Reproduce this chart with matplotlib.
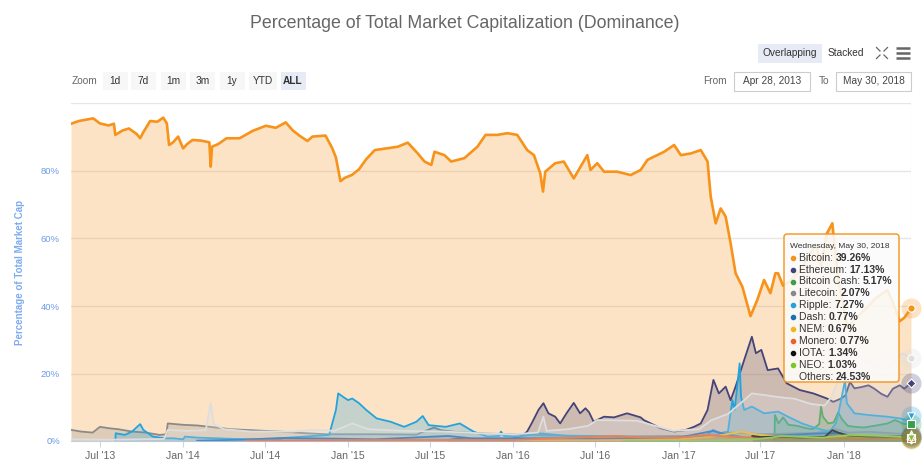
import matplotlib.pyplot as plt
import matplotlib.dates as mdates
import numpy as np
import pandas as pd
from matplotlib.patches import FancyBboxPatch, Rectangle
from matplotlib.ticker import FixedLocator

plt.rcParams["font.family"] = ["Liberation Sans", "DejaVu Sans"]

# values (percent of total market cap)
btc_dates = [
    "2013-04-28", "2013-05-15", "2013-06-16", "2013-07-01", "2013-07-20", "2013-08-01",
    "2013-08-04", "2013-08-20", "2013-09-03", "2013-09-20", "2013-09-28", "2013-10-05",
    "2013-10-20", "2013-11-05", "2013-11-18", "2013-11-26", "2013-12-01", "2013-12-10",
    "2013-12-21", "2014-01-01", "2014-01-10", "2014-01-22", "2014-02-10", "2014-02-28",
    "2014-03-03", "2014-03-06", "2014-03-20", "2014-04-07", "2014-05-06", "2014-06-04",
    "2014-07-03", "2014-07-25", "2014-08-16", "2014-08-31", "2014-09-15", "2014-10-03",
    "2014-10-14", "2014-11-12", "2014-11-27", "2014-12-05", "2014-12-15", "2014-12-25",
    "2015-01-09", "2015-01-25", "2015-02-10", "2015-03-01", "2015-04-01", "2015-04-21",
    "2015-05-13", "2015-06-04", "2015-06-19", "2015-07-04", "2015-07-11", "2015-08-02",
    "2015-08-17", "2015-09-15", "2015-10-14", "2015-11-01", "2015-11-27", "2015-12-19",
    "2016-01-10", "2016-02-01", "2016-02-16", "2016-03-01", "2016-03-07", "2016-03-12",
    "2016-04-03", "2016-04-22", "2016-05-14", "2016-06-13", "2016-06-20", "2016-07-05",
    "2016-07-20", "2016-08-18", "2016-09-17", "2016-10-09", "2016-10-24", "2016-11-30",
    "2016-12-22", "2017-01-06", "2017-01-28", "2017-02-19", "2017-03-06", "2017-03-13",
    "2017-03-24", "2017-04-04", "2017-04-15", "2017-04-26", "2017-05-07", "2017-05-22",
    "2017-06-09", "2017-06-24", "2017-07-09", "2017-07-23", "2017-08-03", "2017-08-09",
    "2017-08-20", "2017-09-01", "2017-09-15", "2017-10-01", "2017-10-15", "2017-11-01",
    "2017-11-12", "2017-11-25", "2017-12-07", "2017-12-12", "2017-12-20", "2018-01-01",
    "2018-01-10", "2018-01-25", "2018-02-10", "2018-02-25", "2018-03-10", "2018-03-25",
    "2018-04-08", "2018-04-20", "2018-05-05", "2018-05-15", "2018-05-30",
]
btc_vals = [
    94.0, 94.8, 95.6, 94.1, 93.5, 94.0,
    90.7, 92.0, 92.6, 91.0, 89.7, 91.5,
    94.8, 94.6, 95.8, 94.1, 87.7, 88.5,
    90.2, 86.7, 88.0, 89.2, 89.0, 88.5,
    81.3, 87.2, 88.0, 89.7, 89.7, 91.9,
    93.4, 92.8, 94.4, 92.1, 90.5, 88.9,
    90.2, 90.5, 86.7, 84.0, 77.0, 78.0,
    78.8, 80.5, 83.5, 86.2, 86.8, 87.2,
    88.4, 85.2, 82.8, 81.8, 85.7, 84.7,
    82.8, 83.8, 87.2, 90.7, 90.7, 91.2,
    90.7, 86.2, 84.7, 79.3, 73.9, 79.8,
    82.3, 82.8, 77.8, 84.7, 80.3, 82.3,
    79.8, 79.8, 78.8, 80.3, 83.3, 85.7,
    87.7, 84.7, 85.2, 86.2, 82.8, 72.4,
    64.5, 68.9, 66.5, 58.6, 49.7, 45.7,
    37.0, 41.8, 47.7, 43.8, 49.7, 49.7,
    46.0, 47.0, 49.0, 51.0, 55.0, 58.0,
    52.0, 61.5, 64.5, 58.0, 48.0, 40.0,
    33.5, 36.0, 38.0, 40.0, 42.0, 43.5,
    44.7, 41.0, 35.5, 36.5, 39.26,
]

eth_dates = [
    "2015-08-10", "2015-09-01", "2015-10-15", "2015-12-01", "2016-01-01", "2016-01-20",
    "2016-02-01", "2016-02-12", "2016-02-26", "2016-03-08", "2016-03-19", "2016-04-03",
    "2016-04-14", "2016-04-28", "2016-05-14", "2016-05-28", "2016-06-09", "2016-06-17",
    "2016-06-27", "2016-07-20", "2016-08-11", "2016-09-09", "2016-10-09", "2016-10-16",
    "2016-11-22", "2016-12-22", "2017-01-15", "2017-02-04", "2017-02-19", "2017-03-06",
    "2017-03-19", "2017-03-31", "2017-04-15", "2017-04-26", "2017-05-07", "2017-05-26",
    "2017-06-12", "2017-06-21", "2017-07-03", "2017-07-17", "2017-08-09", "2017-08-28",
    "2017-09-26", "2017-10-26", "2017-11-25", "2017-12-09", "2017-12-25", "2018-01-05",
    "2018-01-15", "2018-01-25", "2018-02-10", "2018-02-25", "2018-03-10", "2018-03-25",
    "2018-04-08", "2018-04-20", "2018-05-05", "2018-05-15", "2018-05-30",
]
eth_vals = [
    0.3, 0.7, 0.2, 0.2, 0.7, 1.5,
    2.8, 5.5, 9.2, 11.2, 8.2, 7.2,
    5.2, 8.2, 11.3, 8.2, 9.7, 8.5,
    5.7, 7.2, 7.0, 8.2, 7.0, 6.2,
    3.8, 2.8, 3.2, 4.2, 5.2, 9.2,
    18.1, 14.1, 16.1, 12.1, 16.1, 24.0,
    30.9, 26.0, 27.0, 21.0, 21.5, 17.1,
    15.1, 14.1, 12.6, 11.6, 12.5, 13.5,
    17.5, 15.6, 16.0, 16.5, 15.5, 14.0,
    13.1, 15.5, 16.5, 15.5, 17.13,
]

bch_dates = [
    "2017-08-01", "2017-08-02", "2017-08-10", "2017-08-20", "2017-09-01", "2017-09-20",
    "2017-10-10", "2017-10-25", "2017-11-08", "2017-11-12", "2017-11-16", "2017-11-28",
    "2017-12-10", "2017-12-20", "2017-12-28", "2018-01-10", "2018-01-25", "2018-02-15",
    "2018-03-10", "2018-04-08", "2018-04-25", "2018-05-15", "2018-05-30",
]
bch_vals = [
    0.3, 7.7, 5.2, 7.0, 4.8, 4.5,
    3.8, 3.5, 5.0, 10.2, 7.2, 5.2,
    5.5, 8.5, 6.5, 4.5, 4.2, 4.0,
    4.5, 5.2, 6.2, 5.0, 5.17,
]

ltc_dates = [
    "2013-04-28", "2013-05-20", "2013-06-15", "2013-07-01", "2013-07-20", "2013-08-10",
    "2013-09-10", "2013-10-10", "2013-11-10", "2013-11-25", "2013-11-28", "2014-01-01",
    "2014-02-01", "2014-03-01", "2014-04-15", "2014-06-01", "2014-08-01", "2014-10-01",
    "2014-11-15", "2015-01-01", "2015-03-01", "2015-06-01", "2015-07-10", "2015-07-25",
    "2015-09-01", "2015-11-01", "2016-01-01", "2016-04-01", "2016-07-01", "2016-10-01",
    "2017-01-01", "2017-03-15", "2017-04-10", "2017-05-20", "2017-07-01", "2017-09-01",
    "2017-11-01", "2017-12-15", "2018-01-10", "2018-03-01", "2018-04-15", "2018-05-30",
]
ltc_vals = [
    3.3, 2.8, 2.5, 4.2, 3.8, 3.5,
    2.8, 2.5, 1.8, 2.0, 5.2, 4.8,
    4.6, 4.2, 3.5, 3.2, 2.8, 2.3,
    2.0, 2.0, 2.0, 1.9, 4.0, 3.2,
    2.6, 2.2, 2.0, 1.6, 1.5, 1.4,
    1.5, 1.1, 2.5, 2.4, 2.0, 2.2,
    2.4, 3.5, 2.5, 2.7, 2.3, 2.07,
]

xrp_dates = [
    "2013-08-04", "2013-08-05", "2013-08-25", "2013-09-10", "2013-09-28", "2013-10-05",
    "2013-10-26", "2013-11-20", "2013-12-10", "2014-01-01", "2014-01-05", "2014-02-01",
    "2014-05-01", "2014-08-05", "2014-08-10", "2014-11-20", "2014-12-05", "2014-12-10",
    "2014-12-25", "2015-01-01", "2015-01-10", "2015-01-25", "2015-02-10", "2015-03-05",
    "2015-04-05", "2015-05-05", "2015-06-01", "2015-06-15", "2015-06-28", "2015-08-05",
    "2015-09-05", "2015-10-05", "2015-11-05", "2015-12-01", "2015-12-05", "2015-12-12",
    "2016-01-15", "2016-02-25", "2016-05-01", "2016-08-01", "2016-11-01", "2017-02-01",
    "2017-03-05", "2017-03-18", "2017-04-03", "2017-04-20", "2017-04-30", "2017-05-05",
    "2017-05-16", "2017-05-19", "2017-05-26", "2017-06-12", "2017-07-09", "2017-08-09",
    "2017-08-31", "2017-10-01", "2017-11-01", "2017-12-01", "2017-12-15", "2017-12-22",
    "2018-01-04", "2018-01-08", "2018-01-25", "2018-02-25", "2018-04-08", "2018-05-05",
    "2018-05-20", "2018-05-30",
]
xrp_vals = [
    0.3, 2.3, 1.8, 2.8, 5.0, 3.3,
    1.3, 0.8, 0.8, 0.5, 1.3, 1.0,
    0.6, 0.5, 0.9, 1.8, 9.2, 14.1,
    12.7, 12.1, 12.6, 11.2, 9.2, 6.7,
    5.7, 4.2, 5.7, 7.4, 4.7, 4.2,
    5.2, 2.8, 1.3, 1.5, 2.8, 1.5,
    1.3, 2.3, 1.5, 1.3, 1.2, 1.0,
    1.8, 3.3, 2.3, 2.8, 12.1, 9.2,
    23.0, 13.1, 9.2, 10.2, 8.2, 8.7,
    7.2, 5.2, 3.8, 2.8, 5.2, 9.2,
    18.0, 11.2, 8.2, 7.7, 7.2, 6.7,
    6.2, 7.27,
]

dash_dates = [
    "2014-02-01", "2014-05-15", "2014-08-05", "2014-12-01", "2015-03-01", "2015-08-10",
    "2015-10-01", "2016-01-01", "2016-04-01", "2016-07-01", "2016-10-01", "2017-01-01",
    "2017-03-18", "2017-04-15", "2017-06-01", "2017-08-01", "2017-11-01", "2017-12-20",
    "2018-01-20", "2018-03-01", "2018-05-30",
]
dash_vals = [
    0.1, 0.4, 0.9, 0.7, 0.5, 1.5,
    0.8, 0.8, 0.8, 0.6, 0.8, 1.0,
    3.0, 2.0, 1.0, 1.6, 2.2, 2.4,
    1.6, 1.4, 0.77,
]

nem_dates = [
    "2015-04-01", "2016-01-01", "2016-06-01", "2016-09-01", "2017-01-01", "2017-03-15",
    "2017-05-20", "2017-06-10", "2017-07-01", "2017-08-15", "2017-10-01", "2017-12-01",
    "2018-01-10", "2018-02-15", "2018-04-01", "2018-05-30",
]
nem_vals = [
    0.1, 0.1, 0.2, 0.3, 0.5, 1.2,
    2.8, 2.2, 1.8, 1.2, 1.0, 0.8,
    1.5, 1.0, 0.8, 0.67,
]

xmr_dates = [
    "2014-05-20", "2015-01-01", "2016-01-01", "2016-08-20", "2016-09-10", "2016-11-01",
    "2017-01-01", "2017-03-01", "2017-05-01", "2017-07-01", "2017-10-01", "2017-12-20",
    "2018-02-01", "2018-04-15", "2018-05-30",
]
xmr_vals = [
    0.1, 0.3, 0.3, 1.5, 1.2, 1.0,
    1.0, 1.8, 1.2, 0.9, 0.9, 0.8,
    0.7, 0.9, 0.77,
]

iota_dates = [
    "2017-06-13", "2017-07-01", "2017-08-15", "2017-10-01", "2017-11-20", "2017-12-07",
    "2017-12-20", "2018-01-10", "2018-03-01", "2018-05-30",
]
iota_vals = [1.5, 1.2, 1.3, 1.0, 1.2, 3.2, 2.5, 1.6, 1.3, 1.34]

neo_dates = [
    "2016-09-01", "2017-03-01", "2017-06-15", "2017-07-25", "2017-08-15", "2017-10-01",
    "2017-11-15", "2018-01-15", "2018-03-01", "2018-04-15", "2018-05-30",
]
neo_vals = [0.1, 0.1, 0.5, 1.0, 1.5, 1.2, 1.0, 1.8, 1.6, 1.4, 1.03]

oth_dates = [
    "2013-04-28", "2013-08-01", "2013-11-20", "2013-11-28", "2014-01-10", "2014-02-20",
    "2014-03-03", "2014-03-10", "2014-04-01", "2014-06-01", "2014-09-01", "2014-10-15",
    "2014-12-01", "2015-01-10", "2015-02-15", "2015-05-01", "2015-08-01", "2015-11-01",
    "2016-01-01", "2016-02-25", "2016-03-08", "2016-03-15", "2016-05-01", "2016-06-15",
    "2016-07-05", "2016-10-01", "2016-12-20", "2017-02-15", "2017-03-15", "2017-04-20",
    "2017-05-26", "2017-06-12", "2017-07-10", "2017-08-10", "2017-09-15", "2017-10-20",
    "2017-11-20", "2017-12-05", "2017-12-20", "2018-01-08", "2018-01-25", "2018-02-15",
    "2018-03-10", "2018-04-08", "2018-04-25", "2018-05-10", "2018-05-30",
]
oth_vals = [
    0.5, 0.4, 0.6, 3.3, 3.0, 3.2,
    11.2, 5.0, 3.5, 2.8, 2.8, 3.3,
    3.0, 5.2, 3.5, 3.0, 2.8, 2.2,
    2.0, 2.5, 7.2, 3.0, 3.5, 4.5,
    6.2, 6.0, 3.0, 3.5, 6.2, 8.0,
    12.1, 14.1, 13.6, 13.0, 12.5, 11.0,
    10.5, 13.0, 18.0, 27.0, 26.0, 24.0,
    22.5, 21.0, 24.0, 26.0, 24.53,
]

series = [
    ("Bitcoin", btc_dates, btc_vals, "#f7931a", "o"),
    ("Ethereum", eth_dates, eth_vals, "#44447a", "D"),
    ("Bitcoin Cash", bch_dates, bch_vals, "#3a9d4a", "s"),
    ("Litecoin", ltc_dates, ltc_vals, "#8a8a8a", "^"),
    ("Ripple", xrp_dates, xrp_vals, "#23a3dd", "v"),
    ("Dash", dash_dates, dash_vals, "#1c6fb8", "o"),
    ("NEM", nem_dates, nem_vals, "#f5b51f", "D"),
    ("Monero", xmr_dates, xmr_vals, "#f0602a", "s"),
    ("IOTA", iota_dates, iota_vals, "#111111", "^"),
    ("NEO", neo_dates, neo_vals, "#7dc72b", "v"),
    ("Others", oth_dates, oth_vals, "#dedede", "o"),
]

W, H = 924, 472
fig = plt.figure(figsize=(W / 100, H / 100), dpi=100)
ax = fig.add_axes([71 / W, (H - 441) / H, 840 / W, (441 - 103.5) / H])

start, end = pd.Timestamp("2013-04-28"), pd.Timestamp("2018-05-30")
for i, (name, dates, vals, color, marker) in enumerate(series):
    d = pd.to_datetime(dates)
    ax.fill_between(d, vals, 0, color=color, alpha=0.25, lw=0, zorder=2 + i)
    lw = 1.9 if name == "Bitcoin" else 1.3
    ax.plot(d, vals, color=color, lw=lw, zorder=2 + i, solid_joinstyle="round")

# hover markers at the last point
for i, (name, dates, vals, color, marker) in enumerate(series):
    d = pd.to_datetime(dates[-1])
    ax.scatter([d], [vals[-1]], s=210, color=color, alpha=0.25, lw=0,
               zorder=20, clip_on=False)
for i, (name, dates, vals, color, marker) in enumerate(series):
    d = pd.to_datetime(dates[-1])
    ax.scatter([d], [vals[-1]], s=28 if marker != "D" else 20, marker=marker,
               color=color, edgecolor="white", lw=0.8, zorder=21, clip_on=False)

ax.axvline(end, color="#cccccc", lw=0.8, zorder=1)

ax.set_xlim(start, end)
ax.set_ylim(0, 100)
ax.set_yticks([0, 20, 40, 60, 80, 100])
ax.set_yticklabels(["0%", "20%", "40%", "60%", "80%", ""])
ax.grid(axis="y", color="#e6e6e6", lw=1)
ax.set_axisbelow(True)
for s in ["top", "right", "left"]:
    ax.spines[s].set_visible(False)
ax.spines["bottom"].set_color("#ccd6eb")

ticks = pd.date_range("2013-07-01", "2018-01-01", freq="6MS")
ax.xaxis.set_major_locator(FixedLocator(mdates.date2num(ticks)))
ax.xaxis.set_major_formatter(mdates.DateFormatter("%b '%y"))
ax.tick_params(axis="x", length=4, color="#ccd6eb", labelsize=7.6,
               labelcolor="#666666", pad=3)
ax.tick_params(axis="y", length=0, labelsize=6.8, labelcolor="#6c9be6", pad=8)
ax.set_ylabel("Percentage of Total Market Cap", color="#7eabee", fontsize=7,
              fontweight="bold")
ax.yaxis.set_label_coords(-0.055, 0.5)

# overlay in pixel coordinates for the chart chrome
ui = fig.add_axes([0, 0, 1, 1])
ui.set_xlim(0, W)
ui.set_ylim(H, 0)
ui.axis("off")
ui.set_zorder(10)
ui.patch.set_alpha(0)

ui.text(465, 23, "Percentage of Total Market Capitalization (Dominance)",
        ha="center", va="center", fontsize=12.8, color="#666666")

ui.add_patch(Rectangle((758, 44), 64, 19, color="#e6ebf5", lw=0))
ui.text(790, 53.5, "Overlapping", ha="center", va="center", fontsize=7.3, color="#333333")
ui.text(846, 53.5, "Stacked", ha="center", va="center", fontsize=7.3, color="#333333")
# expand icon
for sx, sy in [(-1, -1), (1, -1), (-1, 1), (1, 1)]:
    ui.plot([882 + sx * 2, 882 + sx * 5.5], [53 + sy * 2, 53 + sy * 5.5],
            color="#666666", lw=0.9)
# menu icon
for yy in [48, 53, 58]:
    ui.plot([896, 910], [yy, yy], color="#666666", lw=1.8, solid_capstyle="butt")

ui.text(85, 81, "Zoom", ha="center", va="center", fontsize=7.3, color="#666666")
zoom_buttons = [("1d", 115), ("7d", 143.5), ("1m", 173), ("3m", 202.5),
                ("1y", 232), ("YTD", 263), ("ALL", 293)]
for label, cx in zoom_buttons:
    bg = "#e6ebf5" if label == "ALL" else "#f7f7f7"
    wdt = 28 if label == "YTD" else 25
    ui.add_patch(Rectangle((cx - wdt / 2, 72), wdt, 18, color=bg, lw=0))
    ui.text(cx, 81, label, ha="center", va="center", fontsize=7.3,
            color="#333333", fontweight="bold" if label == "ALL" else "normal")

ui.text(727, 81, "From", ha="right", va="center", fontsize=7.3, color="#666666")
ui.add_patch(Rectangle((734, 72), 76, 19, facecolor="white", edgecolor="#cccccc", lw=0.8))
ui.text(772, 81.5, "Apr 28, 2013", ha="center", va="center", fontsize=7.3, color="#444444")
ui.text(824, 81, "To", ha="center", va="center", fontsize=7.3, color="#666666")
ui.add_patch(Rectangle((836, 72), 75, 19, facecolor="white", edgecolor="#cccccc", lw=0.8))
ui.text(873.5, 81.5, "May 30, 2018", ha="center", va="center", fontsize=7.3, color="#444444")

# tooltip
ui.add_patch(FancyBboxPatch((784, 234), 115, 148, boxstyle="round,pad=0,rounding_size=3",
                            facecolor="#fbfbfb", alpha=0.88, edgecolor="none"))
ui.add_patch(FancyBboxPatch((784, 234), 115, 148, boxstyle="round,pad=0,rounding_size=3",
                            facecolor="none", edgecolor="#f7931a", lw=1))
ui.text(790.5, 246, "Wednesday, May 30, 2018", ha="left", va="center",
        fontsize=6.0, color="#333333")
renderer = fig.canvas.get_renderer()
inv = ui.transData.inverted()
for i, (name, dates, vals, color, marker) in enumerate(series):
    yy = 257.7 + i * 11.9
    if name != "Others":
        ui.plot([793], [yy], marker="o", ms=3, color=color, lw=0)
    t = ui.text(799, yy, f"{name}: ", ha="left", va="center", fontsize=7.5,
                color="#333333")
    bb = t.get_window_extent(renderer=renderer)
    x_end = inv.transform((bb.x1, bb.y0))[0]
    ui.text(x_end, yy, f"{vals[-1]:.2f}%", ha="left", va="center", fontsize=7.5,
            color="#333333", fontweight="bold")

fig.savefig("out.png", dpi=100)
plt.close(fig)
